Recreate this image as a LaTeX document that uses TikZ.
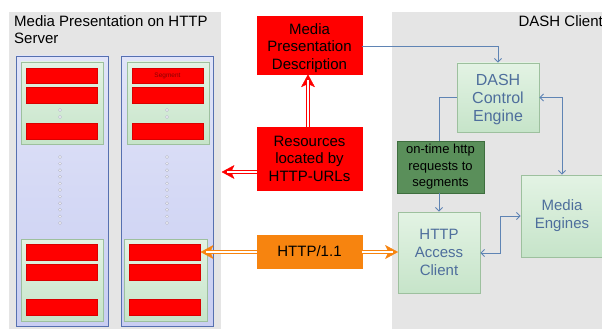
\documentclass[tikz,border=0pt]{standalone}
\usepackage{fontspec}
\setmainfont{Liberation Sans}
\usetikzlibrary{arrows.meta,shadows,calc}
\definecolor{panelgray}{HTML}{E5E5E5}
\definecolor{colfillA}{HTML}{E1E4F8}
\definecolor{colfillB}{HTML}{C9CEF2}
\definecolor{colborder}{HTML}{5670B0}
\definecolor{grnA}{HTML}{E3F3E4}
\definecolor{grnB}{HTML}{C6E4C9}
\definecolor{grnborder}{HTML}{9DC09E}
\definecolor{darkgrn}{HTML}{5A8F5A}
\definecolor{darkgrnb}{HTML}{3E6E3E}
\definecolor{orng}{HTML}{F7840F}
\definecolor{bluetxt}{HTML}{4E6E9C}
\definecolor{conn}{HTML}{5F84B4}
\definecolor{segtxt}{HTML}{8A0000}
\definecolor{dotcol}{HTML}{EEEEF4}
\definecolor{dotborder}{HTML}{B4B6C8}
\tikzset{
  panel/.style={fill=panelgray, draw=none},
  colbox/.style={top color=colfillA, bottom color=colfillB, draw=colborder, line width=0.8pt},
  grnbox/.style={top color=grnA, bottom color=grnB, draw=grnborder, line width=0.8pt},
  redbar/.style={fill=red, draw=red!85!black, line width=0.3pt},
  redbox/.style={fill=red, draw=red, inner sep=2pt, align=center, text=black,
     font=\fontsize{15}{17.5}\selectfont},
  clientbox/.style={top color=grnA, bottom color=grnB, draw=grnborder, line width=0.8pt,
     align=center, text=bluetxt, font=\fontsize{15}{18}\selectfont,
     drop shadow={shadow xshift=1pt, shadow yshift=-1pt, opacity=0.25}},
  reqbox/.style={fill=darkgrn, draw=darkgrnb, line width=0.6pt, align=center, text=black,
     font=\fontsize{13}{16.5}\selectfont},
  orbox/.style={fill=orng, draw=orng, align=center, text=black, font=\fontsize{15}{17}\selectfont},
  redshaft/.style={draw=red, line width=0.9pt, double=white, double distance=2.2pt},
  orshaft/.style={draw=orng, line width=0.9pt, double=white, double distance=2.2pt},
  redhead/.style={fill=red, draw=red, line width=0.4pt, line join=miter},
  orhead/.style={fill=orng, draw=orng, line width=0.4pt, line join=miter},
  connector/.style={draw=conn, line width=0.9pt},
  conntip/.style={connector, -{Straight Barb[length=3.5pt,width=7pt]}},
  conntwo/.style={connector, {Straight Barb[length=3.5pt,width=7pt]}-{Straight Barb[length=3.5pt,width=7pt]}},
  dotmark/.style={circle, fill=dotcol, draw=dotborder, line width=0.3pt, inner sep=0pt, minimum size=3.2pt},
}
\begin{document}
\begin{tikzpicture}[x=1pt,y=-1pt]
\useasboundingbox (0,0) rectangle (602,329);
\fill[white] (0,0) rectangle (602,329);
% panels
\path[panel] (9,12) rectangle (221,329);
\path[panel] (392,12) rectangle (602,329);
\node[anchor=north west, align=left, inner sep=0pt, font=\fontsize{15}{17}\selectfont] (servertitle) at (14,15) {Media Presentation on HTTP\\Server};
\node[anchor=north east, inner sep=0pt, font=\fontsize{15}{17}\selectfont] (clienttitle) at (603,15) {DASH Client};
% columns
\path[colbox] (16,56) rectangle (108,326);
\path[colbox] (121,56) rectangle (213,326);
% top green boxes
\path[grnbox] (21,62) rectangle (103,144);
\path[grnbox] (127,62) rectangle (209,144);
% bottom green boxes
\path[grnbox] (21,239) rectangle (103,321);
\path[grnbox] (124,239) rectangle (207,321);
% red bars top
\path[redbar] (26,68) rectangle (97,83);
\path[redbar] (26,87) rectangle (97,103);
\path[redbar] (26,123) rectangle (97,139);
\path[redbar] (132,68) rectangle (203,83);
\path[redbar] (132,87) rectangle (203,103);
\path[redbar] (132,123) rectangle (203,139);
\node[text=segtxt, font=\fontsize{6.5}{7}\selectfont, inner sep=0pt] (seglabel) at (167.5,75.5) {Segment};
% red bars bottom
\path[redbar] (26,244) rectangle (97,260);
\path[redbar] (26,264) rectangle (97,280);
\path[redbar] (26,299) rectangle (97,315);
\path[redbar] (129,244) rectangle (200,260);
\path[redbar] (129,264) rectangle (200,280);
\path[redbar] (129,299) rectangle (200,315);
% dots
\foreach \yy in {110,117} {
  \node[dotmark] at (60,\yy) {};
  \node[dotmark] at (167,\yy) {};
}
\foreach \k in {0,...,10} {
  \node[dotmark] at (60,157+6.6*\k) {};
  \node[dotmark] at (167,157+6.6*\k) {};
}
% center boxes
\node[redbox, minimum width=105pt, minimum height=57pt] (mpd) at (309.5,45.5) {\rule{0pt}{16pt}Media\\Presentation\\Description};
\node[redbox, minimum width=105pt, minimum height=63pt] (res) at (309.5,158.5) {Resources\\located by\\HTTP-URLs};
\node[orbox, minimum width=105pt, minimum height=33pt] (http) at (309.5,251.5) {HTTP/1.1};
% client boxes
\node[clientbox, minimum width=82pt, minimum height=69pt, font=\fontsize{16}{18}\selectfont] (dce) at (498,97.5) {\rule{0pt}{16pt}DASH\\Control\\Engine};
\node[reqbox, minimum width=87pt, minimum height=50pt] (req) at (440.5,167) {on-time http\\requests to\\segments};
\node[clientbox, minimum width=82pt, minimum height=81pt] (hac) at (439,252.5) {HTTP\\Access\\Client};
\node[clientbox, minimum width=82pt, minimum height=82pt] (me) at (562,216) {Media\\Engines};
% coordinates
\coordinate (uptip) at (mpd.south -| 308,0);
\coordinate (upfrom) at (res.north -| 308,0);
\coordinate (leftend) at (222,172);
\coordinate (leftfrom) at (res.west |- leftend);
\coordinate (segend) at (201,252);
\coordinate (httpL) at (http.west |- segend);
\coordinate (httpR) at (http.east |- segend);
\coordinate (hacend) at (hac.west |- segend);
% red up arrow
\path[redhead] (uptip) -- ($(uptip)+(-6.5,12)$) -- ($(uptip)+(0,9)$) -- ($(uptip)+(6.5,12)$) -- cycle;
\draw[redshaft] (upfrom) -- ($(uptip)+(0,5)$);
% red left arrow
\path[redhead] (leftend) -- ($(leftend)+(12,-6.5)$) -- ($(leftend)+(9,0)$) -- ($(leftend)+(12,6.5)$) -- cycle;
\draw[redshaft] (leftfrom) -- ($(leftend)+(5,0)$);
% orange arrows
\path[orhead] (segend) -- ($(segend)+(12,-6.5)$) -- ($(segend)+(9,0)$) -- ($(segend)+(12,6.5)$) -- cycle;
\draw[orshaft] (httpL) -- ($(segend)+(5,0)$);
\path[orhead] (hacend) -- ($(hacend)+(-12,-6.5)$) -- ($(hacend)+(-9,0)$) -- ($(hacend)+(-12,6.5)$) -- cycle;
\draw[orshaft] (httpR) -- ($(hacend)+(-5,0)$);
% connectors
\draw[conntip] (mpd.east |- 0,46) -| (dce.north);
\draw[connector] (dce.west) -| (req.north -| 439,0);
\draw[conntip] (req.south -| 439,0) -- (hac.north -| 439,0);
\draw[conntwo] (dce.east) -| (me.north);
\draw[conntwo] (hac.east |- 0,253) -- (500,253) |- (me.west);
\end{tikzpicture}
\end{document}
